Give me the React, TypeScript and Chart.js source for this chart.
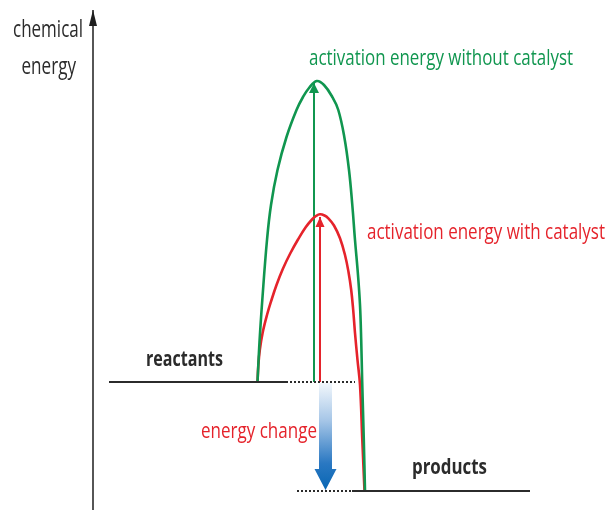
import React, { useEffect, useRef } from "react";
import { Chart, registerables } from "chart.js";

Chart.register(...registerables);

// x: reaction progress (arbitrary units), y: chemical energy (arbitrary units)
const REACTANT_ENERGY = 128;
const PRODUCT_ENERGY = 19;
const PEAK_WITHOUT_CATALYST = 429;
const PEAK_WITH_CATALYST = 296;

const axisX = 93;
const axisEnergy = [0, 500];

const reactantSolid = [109, 286];
const reactantDotted = [286, 355];
const productDotted = [297, 352];
const productSolid = [352, 530];

const withoutCatalystX = [257.5, 259.5, 262.3, 267, 271, 277.5, 286.5, 296.5, 303, 309, 316.7, 324, 332.3, 338.3, 344.3, 349, 352.3, 355, 358, 360, 361.2, 362.2, 363.8, 365];
const withoutCatalystE = [128, 168, 210, 270, 305, 340, 373, 400, 413, 422, 429, 425, 413, 400, 373, 340, 305, 270, 235, 205, 170, 128, 70, 19];

const withCatalystX = [257.5, 258.3, 259.8, 262.6, 267, 271.5, 276.5, 282.8, 290.2, 298, 305.5, 312, 316, 320, 324.5, 328.3, 334, 340, 345, 348.5, 351.2, 353.2, 355, 357.5, 360, 362.3, 364.5];
const withCatalystE = [128, 144, 160, 177, 195, 210, 225, 241, 256.5, 270.5, 282.5, 290.5, 294, 295.7, 294.5, 291.7, 284.5, 271.7, 255, 238, 220, 200, 177, 150, 125, 70, 19];

const arrowWithoutX = 314;
const arrowWithX = 320;
const energyChangeX = 325.5;

const labelTexts = [
  "chemical",
  "energy",
  "activation energy without catalyst",
  "activation energy with catalyst",
  "energy change",
  "reactants",
  "products",
];

const GREEN = "#10964f";
const RED = "#e5232b";
const DARK = "#2b2b2b";

const pts = (xs: number[], ys: number[]) => xs.map((x, i) => ({ x, y: ys[i] }));

export default function App() {
  const ref = useRef<HTMLCanvasElement | null>(null);

  useEffect(() => {
    if (!ref.current) return;

    const labelLayout = [
      { x: 13, y: 473, w: 70, color: DARK, bold: false, size: 23 },
      { x: 21.5, y: 436, w: 54.5, color: DARK, bold: false, size: 23 },
      { x: 309, y: 445, w: 264, color: GREEN, bold: false, size: 22 },
      { x: 367, y: 271, w: 238, color: RED, bold: false, size: 22 },
      { x: 201, y: 72, w: 116, color: RED, bold: false, size: 22 },
      { x: 146, y: 144, w: 77, color: DARK, bold: true, size: 22 },
      { x: 412, y: 36, w: 75, color: DARK, bold: true, size: 22 },
    ];

    const arrowPlugin = {
      id: "arrowsAndLabels",
      afterDatasetsDraw(chart: any) {
        const ctx = chart.ctx;
        chart.data.datasets.forEach((ds: any, i: number) => {
          const meta = chart.getDatasetMeta(i);
          const els = meta.data;
          if (!els || els.length < 2) return;
          const p1 = els[els.length - 1];
          const p0 = els[els.length - 2];
          if (ds.arrowHead) {
            const { length, width } = ds.arrowHead;
            const ang = Math.atan2(p1.y - p0.y, p1.x - p0.x);
            ctx.save();
            ctx.translate(p1.x, p1.y);
            ctx.rotate(ang);
            ctx.fillStyle = ds.borderColor;
            ctx.beginPath();
            ctx.moveTo(0, 0);
            ctx.lineTo(-length, width / 2);
            ctx.lineTo(-length, -width / 2);
            ctx.closePath();
            ctx.fill();
            ctx.restore();
          }
          if (ds.blockArrow) {
            const a = els[0];
            const b = els[els.length - 1];
            const shaftW = 13;
            const headW = 22;
            const headL = 21;
            const grad = ctx.createLinearGradient(0, a.y, 0, b.y);
            grad.addColorStop(0, "#f2f7fc");
            grad.addColorStop(0.35, "#a6c6e7");
            grad.addColorStop(0.75, "#2a78c2");
            grad.addColorStop(1, "#0866b3");
            ctx.save();
            ctx.fillStyle = grad;
            ctx.beginPath();
            ctx.moveTo(a.x - shaftW / 2, a.y);
            ctx.lineTo(a.x + shaftW / 2, a.y);
            ctx.lineTo(a.x + shaftW / 2, b.y - headL);
            ctx.lineTo(a.x + headW / 2, b.y - headL);
            ctx.lineTo(b.x, b.y);
            ctx.lineTo(a.x - headW / 2, b.y - headL);
            ctx.lineTo(a.x - shaftW / 2, b.y - headL);
            ctx.closePath();
            ctx.fill();
            ctx.restore();
          }
        });

        const xs = chart.scales.x;
        const ys = chart.scales.y;
        labelTexts.forEach((t, i) => {
          const l = labelLayout[i];
          const px = xs.getPixelForValue(l.x);
          const py = ys.getPixelForValue(l.y);
          ctx.save();
          ctx.font = `${l.bold ? "bold " : ""}${l.size}px "Open Sans", "DejaVu Sans", sans-serif`;
          ctx.fillStyle = l.color;
          ctx.textBaseline = "alphabetic";
          ctx.textAlign = "left";
          const m = ctx.measureText(t).width;
          ctx.translate(px, py);
          ctx.scale(l.w / m, 1);
          ctx.fillText(t, 0, 0);
          ctx.restore();
        });
      },
    };

    const line = (data: any[], color: string, width: number, extra: any = {}) => ({
      data,
      borderColor: color,
      backgroundColor: color,
      borderWidth: width,
      pointRadius: 0,
      fill: false,
      tension: 0,
      ...extra,
    });

    const chart = new Chart(ref.current, {
      type: "line",
      data: {
        datasets: [
          line(
            [
              { x: axisX, y: axisEnergy[0] },
              { x: axisX, y: axisEnergy[1] },
            ],
            "#1e1e1e",
            1.5,
            { arrowHead: { length: 16, width: 8 } }
          ),
          line(
            [
              { x: reactantSolid[0], y: REACTANT_ENERGY },
              { x: reactantSolid[1], y: REACTANT_ENERGY },
            ],
            DARK,
            2
          ),
          line(
            [
              { x: reactantDotted[0], y: REACTANT_ENERGY },
              { x: reactantDotted[1], y: REACTANT_ENERGY },
            ],
            DARK,
            2,
            { borderDash: [2, 2] }
          ),
          line(
            [
              { x: productDotted[0], y: PRODUCT_ENERGY },
              { x: productDotted[1], y: PRODUCT_ENERGY },
            ],
            DARK,
            2,
            { borderDash: [2, 2] }
          ),
          line(
            [
              { x: productSolid[0], y: PRODUCT_ENERGY },
              { x: productSolid[1], y: PRODUCT_ENERGY },
            ],
            DARK,
            2
          ),
          line(pts(withoutCatalystX, withoutCatalystE), GREEN, 2.6, { tension: 0.4 }),
          line(pts(withCatalystX, withCatalystE), RED, 2.6, { tension: 0.4 }),
          line(
            [
              { x: arrowWithoutX, y: REACTANT_ENERGY },
              { x: arrowWithoutX, y: PEAK_WITHOUT_CATALYST - 2 },
            ],
            GREEN,
            2,
            { arrowHead: { length: 10, width: 10 } }
          ),
          line(
            [
              { x: arrowWithX, y: REACTANT_ENERGY },
              { x: arrowWithX, y: PEAK_WITH_CATALYST - 3 },
            ],
            RED,
            2,
            { arrowHead: { length: 10, width: 9 } }
          ),
          line(
            [
              { x: energyChangeX, y: REACTANT_ENERGY - 1 },
              { x: energyChangeX, y: PRODUCT_ENERGY + 1 },
            ],
            "rgba(0,0,0,0)",
            0,
            { blockArrow: true, showLine: false }
          ),
        ] as any,
      },
      options: {
        animation: false,
        responsive: true,
        maintainAspectRatio: false,
        layout: { padding: 0 },
        plugins: { legend: { display: false }, tooltip: { enabled: false }, title: { display: false } },
        scales: {
          x: { type: "linear", min: 0, max: 609, display: false },
          y: { type: "linear", min: 0, max: 510, display: false },
        },
      },
      plugins: [arrowPlugin],
    });

    return () => chart.destroy();
  }, []);

  return (
    <div style={{ position: "absolute", left: 0, top: 0, width: 609, height: 510, background: "#fff" }}>
      <canvas ref={ref} />
    </div>
  );
}
